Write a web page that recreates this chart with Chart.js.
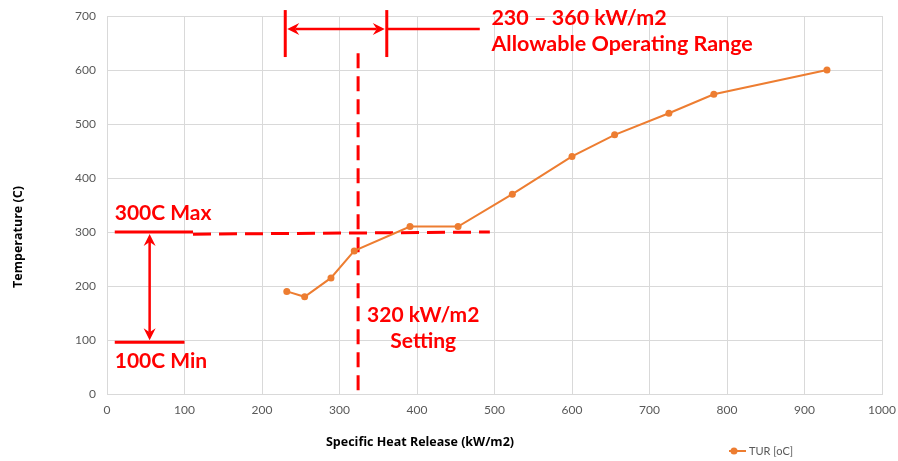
<!DOCTYPE html>
<html>
<head>
<meta charset="utf-8">
<script src="https://cdn.jsdelivr.net/npm/chart.js@4/dist/chart.umd.min.js"></script>
<style>
  html, body { margin: 0; padding: 0; background: #fff; }
  canvas { display: block; }
</style>
</head>
<body>
<canvas id="chart" width="898" height="461"></canvas>
<script>
// series: specific heat release vs TUR temperature
const heatRelease = [232, 255, 289, 319, 391, 453, 523, 600, 655, 725, 783, 929];
const turTemp     = [190, 180, 215, 265, 310, 310, 370, 440, 480, 520, 555, 600];
const seriesName  = "TUR [oC]";

// axis ticks
const xTicks = [0, 100, 200, 300, 400, 500, 600, 700, 800, 900, 1000];
const yTicks = [0, 100, 200, 300, 400, 500, 600, 700];

// annotation values (data units)
const maxTemp = 300;
const minTemp = 100;
const rangeLow = 230;
const rangeHigh = 361;
const settingHR = 324;

const RED = "#ff0000";
const ORANGE = "#ed7d31";
const GRID = "#d9d9d9";
const TICK = "#595959";

const ctx = document.getElementById("chart").getContext("2d");

function arrowHead(c, x, y, ang) {
  const L = 12, W = 6, N = 4;
  c.save();
  c.translate(x, y);
  c.rotate(ang);
  c.beginPath();
  c.moveTo(0, 0);
  c.lineTo(-L, -W);
  c.lineTo(-L + N, 0);
  c.lineTo(-L, W);
  c.closePath();
  c.fill();
  c.restore();
}

function line(c, x1, y1, x2, y2, dash) {
  c.setLineDash(dash || []);
  c.beginPath();
  c.moveTo(x1, y1);
  c.lineTo(x2, y2);
  c.stroke();
  c.setLineDash([]);
}

const annotations = {
  id: "annotations",
  beforeDatasetsDraw(chart) {
    const c = chart.ctx;
    const xs = chart.scales.x, ys = chart.scales.y;
    const X = v => xs.getPixelForValue(v);
    const Y = v => ys.getPixelForValue(v);
    c.save();
    c.strokeStyle = RED;
    c.fillStyle = RED;
    c.lineWidth = 3;

    // 300C max / 100C min marks
    line(c, X(10), Y(maxTemp), X(111), Y(maxTemp));
    line(c, X(111), Y(maxTemp - 4), X(494), Y(maxTemp), [18, 8]);
    line(c, X(10), Y(minTemp - 4), X(100), Y(minTemp - 4));
    c.lineWidth = 2.5;
    line(c, X(55), Y(maxTemp) + 10, X(55), Y(minTemp - 4) - 10);
    arrowHead(c, X(55), Y(maxTemp) + 2, -Math.PI / 2);
    arrowHead(c, X(55), Y(minTemp - 4) - 2, Math.PI / 2);

    // setting line
    c.lineWidth = 3;
    line(c, X(settingHR), Y(631), X(settingHR), Y(7), [15, 8]);

    // allowable range
    line(c, X(rangeLow), Y(711), X(rangeLow), Y(624));
    line(c, X(rangeHigh), Y(711), X(rangeHigh), Y(624));
    c.lineWidth = 2.5;
    line(c, X(rangeLow) + 10, Y(676), X(rangeHigh) - 10, Y(676));
    line(c, X(rangeHigh), Y(676), X(481), Y(676));
    arrowHead(c, X(rangeLow) + 2, Y(676), Math.PI);
    arrowHead(c, X(rangeHigh) - 2, Y(676), 0);

    // labels
    c.font = "bold 21px Lato";
    c.textBaseline = "alphabetic";
    c.textAlign = "left";
    c.fillText("300C Max", X(10), Y(maxTemp) - 12);
    c.fillText("100C Min", X(10), Y(minTemp - 4) + 26);
    c.font = "bold 21.5px Lato";
    c.fillText("230 \u2013 360 kW/m2", X(496), Y(676) - 4);
    c.fillText("Allowable Operating Range", X(496), Y(676) + 22);
    c.font = "bold 21px Lato";
    c.textAlign = "center";
    c.fillText("320 kW/m2", X(408), Y(134));
    c.fillText("Setting", X(408), Y(134) + 26);
    c.restore();
  },
  afterDraw(chart) {
    const c = chart.ctx;
    c.save();
    // axis titles
    c.fillStyle = "#000";
    c.font = "bold 12.5px 'Open Sans'";
    c.textAlign = "center";
    c.textBaseline = "middle";
    c.fillText("Specific Heat Release (kW/m2)", 420, 442);
    c.translate(18, 237);
    c.rotate(-Math.PI / 2);
    c.fillText("Temperature (C)", 0, 0);
    c.restore();

    // legend
    c.save();
    c.strokeStyle = ORANGE;
    c.fillStyle = ORANGE;
    c.lineWidth = 2;
    line(c, 729, 451, 746, 451);
    c.beginPath();
    c.arc(734, 451, 3.5, 0, Math.PI * 2);
    c.fill();
    c.fillStyle = TICK;
    c.font = "11px Lato";
    c.textAlign = "left";
    c.textBaseline = "middle";
    c.fillText(seriesName, 749, 451);
    c.restore();
  }
};

new Chart(ctx, {
  type: "line",
  data: {
    datasets: [{
      label: seriesName,
      data: heatRelease.map((x, i) => ({ x: x, y: turTemp[i] })),
      borderColor: ORANGE,
      backgroundColor: ORANGE,
      borderWidth: 2,
      pointRadius: 3.5,
      pointBorderWidth: 0,
      pointBackgroundColor: ORANGE,
      tension: 0
    }]
  },
  options: {
    responsive: false,
    animation: false,
    layout: { padding: { left: 0, top: 16, right: 16, bottom: 0 } },
    plugins: { legend: { display: false }, tooltip: { enabled: false } },
    scales: {
      x: {
        type: "linear",
        min: xTicks[0], max: xTicks[xTicks.length - 1],
        afterBuildTicks: s => { s.ticks = xTicks.map(v => ({ value: v })); },
        afterFit: s => { s.height = 67; s.paddingLeft = 0; s.paddingRight = 0; },
        grid: { color: GRID, drawTicks: false },
        border: { color: GRID },
        ticks: { color: TICK, font: { family: "Lato", size: 12 }, padding: 9, maxRotation: 0,
                 callback: v => String(v) }
      },
      y: {
        min: yTicks[0], max: yTicks[yTicks.length - 1],
        afterBuildTicks: s => { s.ticks = yTicks.map(v => ({ value: v })); },
        afterFit: s => { s.width = 107; s.paddingTop = 0; s.paddingBottom = 0; },
        grid: { color: GRID, drawTicks: false },
        border: { color: GRID },
        ticks: { color: TICK, font: { family: "Lato", size: 12 }, padding: 11 }
      }
    }
  },
  plugins: [annotations]
});
</script>
</body>
</html>
